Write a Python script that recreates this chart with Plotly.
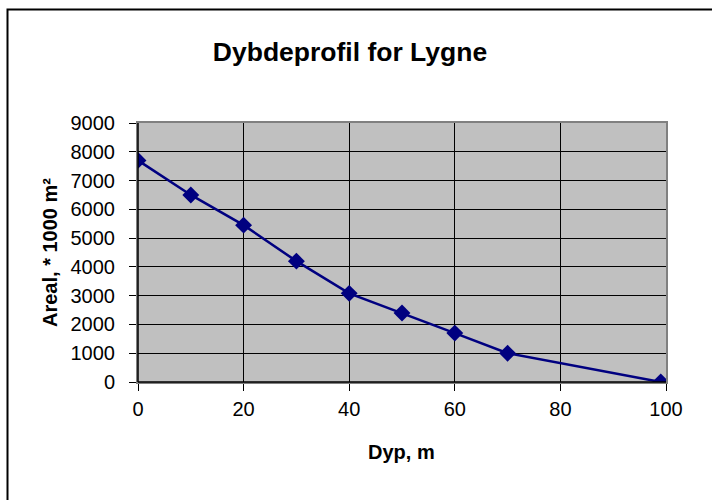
import plotly.graph_objects as go

depth = [0, 10, 20, 30, 40, 50, 60, 70, 99]
area = [7700, 6500, 5450, 4200, 3080, 2400, 1700, 1000, 0]
title_text = "Dybdeprofil for Lygne"
x_title = "Dyp, m"
y_title = "Areal, * 1000 m²"

W, H = 712, 500
L, R, T, B = 138, 666, 123, 382
pw, ph = R - L, B - T

def px(x):
    return (x - L) / pw

def py(y):
    return (B - y) / ph

fig = go.Figure()
fig.add_trace(go.Scatter(
    x=depth, y=area, mode="lines+markers",
    line=dict(color="#000080", width=2.5),
    marker=dict(symbol="diamond", size=13, color="#000080"),
    showlegend=False,
))

font = "Arial, 'Liberation Sans', sans-serif"
fig.update_layout(
    width=W, height=H,
    margin=dict(l=L, r=W - R, t=T, b=H - B, pad=0),
    paper_bgcolor="white", plot_bgcolor="#C0C0C0",
    font=dict(family=font, size=20, color="black"),
    title=dict(text="<b>" + title_text + "</b>", x=px(350), xref="paper", xanchor="center",
               y=1 - 52 / H, yanchor="middle", font=dict(size=26.5)),
    xaxis=dict(range=[0, 100], dtick=20, tick0=0, showgrid=True, gridcolor="black", gridwidth=1,
               showline=True, linecolor="#808080", linewidth=2, mirror=True,
               ticks="outside", ticklen=7, tickcolor="black", zeroline=False,
               tickfont=dict(size=20), ticklabelstandoff=1),
    yaxis=dict(range=[0, 9000], dtick=1000, tick0=0, showgrid=True, gridcolor="black", gridwidth=1,
               showline=True, linecolor="#808080", linewidth=2, mirror=True,
               ticks="outside", ticklen=7, tickcolor="black", zeroline=False,
               tickfont=dict(size=20), ticklabelstandoff=10),
    annotations=[
        dict(text="<b>" + x_title + "</b>", xref="paper", yref="paper",
             x=px(401), y=py(452), xanchor="center", yanchor="middle",
             showarrow=False, font=dict(size=20)),
        dict(text="<b>" + y_title + "</b>", xref="paper", yref="paper",
             x=px(50), y=py(253), xanchor="center", yanchor="middle", textangle=-90,
             showarrow=False, font=dict(size=20)),
    ],
    shapes=[
        dict(type="line", xref="paper", yref="paper", x0=0, x1=0, y0=0, y1=1,
             line=dict(color="black", width=1.5), layer="above"),
        dict(type="line", xref="paper", yref="paper", x0=0, x1=1, y0=0, y1=0,
             line=dict(color="black", width=1.5), layer="above"),
        dict(type="rect", xref="paper", yref="paper",
             x0=px(7.5), x1=px(730), y0=py(9.5), y1=py(520),
             line=dict(color="black", width=2), layer="below"),
    ],
)
fig.write_html("out.html", config={"displayModeBar": False},
               post_script="document.body.style.margin='0';")
